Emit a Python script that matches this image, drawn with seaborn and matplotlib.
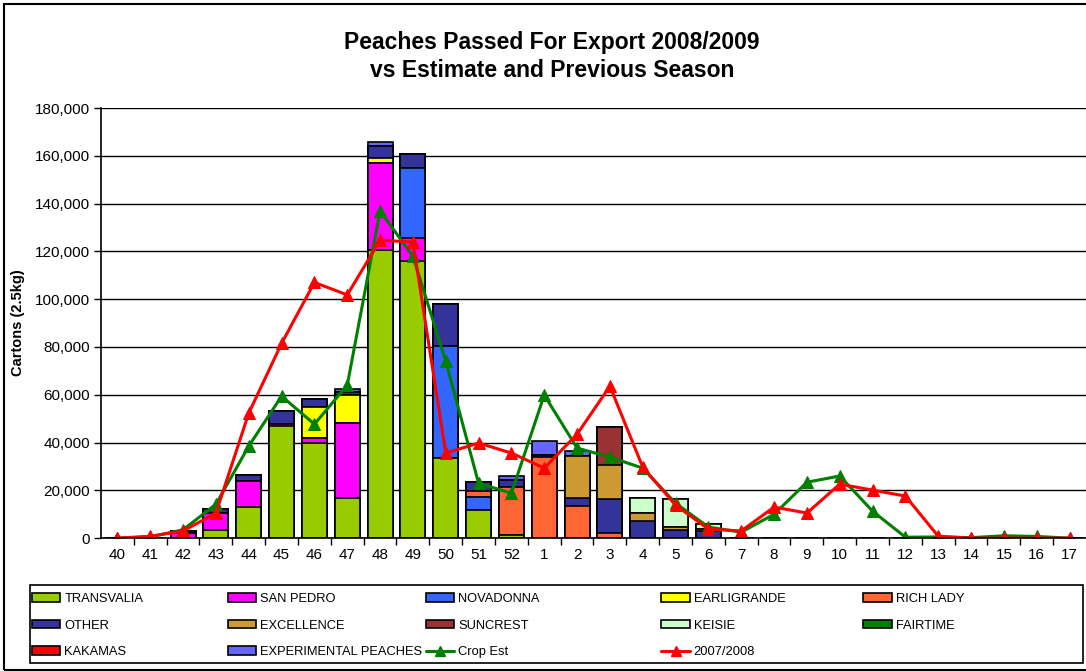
import numpy as np
import pandas as pd
import matplotlib
matplotlib.use("Agg")
import matplotlib.pyplot as plt
from matplotlib.patches import Patch, Rectangle
from matplotlib.lines import Line2D
from matplotlib.ticker import FuncFormatter, FixedLocator
import seaborn as sns

# weeks 40..52 then 1..17
weeks = [str(w) for w in list(range(40, 53)) + list(range(1, 18))]

#               40 41   42    43     44     45     46     47      48      49     50     51    52     1      2      3      4      5     6   7 .. 17
transvalia   = [0, 0,    0, 3500, 13000, 46900, 39800, 16700, 120500, 116000, 33500, 11700, 1500,     0,     0,     0,    0,     0,    0] + [0] * 11
san_pedro    = [0, 0, 2000, 7000, 11000,  1000,  2000, 31400,  36400,   9600,     0,     0,    0,     0,     0,     0,    0,     0,    0] + [0] * 11
novadonna    = [0, 0,    0,    0,     0,     0,     0,     0,      0,  29300, 46900,  5400,    0,     0,     0,     0,    0,     0,    0] + [0] * 11
earligrande  = [0, 0,    0,    0,     0,     0, 13000, 11700,   2000,      0,     0,     0,    0,     0,     0,     0,    0,     0,    0] + [0] * 11
rich_lady    = [0, 0,    0,    0,     0,     0,     0,     0,      0,      0,     0,  2500, 20000, 33900, 13400,  2100,    0,     0,    0] + [0] * 11
other        = [0, 0, 1000, 1500,  2500,  5500,  3300,  1300,   5400,   5800, 17600,  3800, 2800,  1000,  3500, 14200, 7100,  3300, 2800] + [0] * 11
excellence   = [0, 0,    0,    0,     0,     0,     0,     0,      0,      0,     0,     0,    0,     0, 17600, 14200, 3300,  1300, 1000] + [0] * 11
suncrest     = [0, 0,    0,    0,     0,     0,     0,     0,      0,      0,     0,     0,    0,     0,     0, 15900,    0,     0,    0] + [0] * 11
keisie       = [0, 0,    0,    0,     0,     0,     0,     0,      0,      0,     0,     0,    0,     0,     0,     0, 6300, 11700, 2000] + [0] * 11
fairtime     = [0] * 30
kakamas      = [0] * 30
experimental = [0, 0,    0,    0,     0,     0,     0,  1500,   1300,      0,     0,     0, 1800,  5900,  2000,     0,    0,     0,    0] + [0] * 11

crop_est = [0, 500, 3500, 14200, 38500, 59400, 47700, 64000, 136900, 118000, 74100, 23000, 18800,
            59900, 37700, 33900, 29300, 14600, 4600, 2500, 10000, 23400, 26000, 11300, 400, 500, 200, 1000, 700, 0]
prev_season = [0, 800, 3000, 10500, 52300, 81500, 107000, 101800, 124700, 123900, 35600, 39800, 35600,
               29300, 43500, 63600, 29700, 13800, 3800, 3000, 13000, 10500, 22600, 20100, 17600, 800, 0, 0, 0, 0]

varieties = ["TRANSVALIA", "SAN PEDRO", "NOVADONNA", "EARLIGRANDE", "RICH LADY", "OTHER",
             "EXCELLENCE", "SUNCREST", "KEISIE", "FAIRTIME", "KAKAMAS", "EXPERIMENTAL PEACHES"]
colors = ["#99CC00", "#FF00FF", "#3366FF", "#FFFF00", "#FF6633", "#333399",
          "#CC9933", "#993333", "#CCFFCC", "#008000", "#FF0000", "#6666FF"]

df = pd.DataFrame(dict(zip(varieties, [transvalia, san_pedro, novadonna, earligrande, rich_lady, other,
                                       excellence, suncrest, keisie, fairtime, kakamas, experimental])),
                  index=weeks)
cum = df.cumsum(axis=1)

sns.set_theme(style="white", rc={"text.color": "black", "axes.labelcolor": "black",
                                 "xtick.color": "black", "ytick.color": "black"})
plt.rcParams["font.family"] = ["Liberation Sans", "DejaVu Sans"]

fig = plt.figure(figsize=(10.86, 6.71), dpi=100)
ax = fig.add_axes([0.093, 0.198, 0.907, 0.641])

# stacked bars: draw cumulative totals from the top layer down
for name, col in reversed(list(zip(varieties, colors))):
    sns.barplot(x=weeks, y=cum[name].values, order=weeks, color=col, saturation=1,
                edgecolor="black", linewidth=1.2, width=0.76, errorbar=None, ax=ax)

pos = np.arange(len(weeks))
sns.lineplot(x=pos, y=crop_est, color="#008000", marker="^", markersize=8, markeredgecolor="#008000",
             linewidth=2.2, legend=False, ax=ax)
sns.lineplot(x=pos, y=prev_season, color="#FF0000", marker="^", markersize=8, markeredgecolor="#FF0000",
             linewidth=2.2, legend=False, ax=ax)

ax.set_xlim(-0.5, len(weeks) - 0.5)
ax.set_ylim(0, 180000)
ax.set_yticks(np.arange(0, 180001, 20000))
ax.yaxis.set_major_formatter(FuncFormatter(lambda v, p: f"{int(v):,}"))
ax.set_xticks(pos)
ax.set_xticklabels(weeks)
ax.xaxis.set_minor_locator(FixedLocator(pos[:-1] + 0.5))
ax.tick_params(axis="x", which="major", length=0, labelsize=11, pad=7)
ax.tick_params(axis="x", which="minor", length=5, width=1, direction="out", color="black", bottom=True)
ax.tick_params(axis="y", length=5, width=1, direction="out", labelsize=11, left=True, pad=3)
ax.set_xlabel("")
ax.set_ylabel("")
ax.yaxis.grid(True, color="black", linewidth=1)
ax.set_axisbelow(True)
for s in ["top", "right"]:
    ax.spines[s].set_visible(False)
for s in ["left", "bottom"]:
    ax.spines[s].set_color("black")
    ax.spines[s].set_linewidth(1.2)

fig.text(0.508, 0.916, "Peaches Passed For Export 2008/2009\nvs Estimate and Previous Season",
         ha="center", va="center", fontsize=16.5, fontweight="bold", linespacing=1.3)
fig.text(0.017, 0.519, "Cartons (2.5kg)", rotation=90, ha="center", va="center",
         fontsize=10.5, fontweight="bold")

# legend: framed box, five columns placed like the original
patches = [Patch(facecolor=c, edgecolor="black", linewidth=1.2, label=n) for n, c in zip(varieties, colors)]
crop_h = Line2D([], [], color="#008000", marker="^", markersize=7, linewidth=2.2, label="Crop Est")
prev_h = Line2D([], [], color="#FF0000", marker="^", markersize=7, linewidth=2.2, label="2007/2008")
rows = [patches[0:5], patches[5:10], patches[10:12] + [crop_h, prev_h]]
col_x = [0.0295, 0.210, 0.392, 0.609, 0.795]
for c, x in enumerate(col_x):
    hs = [rows[r][c] for r in range(3) if c < len(rows[r])]
    leg = fig.legend(handles=hs, labels=[h.get_label() for h in hs], loc="upper left",
                     bbox_to_anchor=(x, 0.116), frameon=False, fontsize=9.3,
                     handlelength=2.2, handleheight=0.66, handletextpad=0.3, labelspacing=1.12,
                     borderaxespad=0, borderpad=0)
fig.patches.append(Rectangle((30 / 1086, 1 - 663 / 671), 1053 / 1086, 78 / 671, transform=fig.transFigure,
                             fill=False, edgecolor="black", linewidth=1.2))

fig.patches.append(Rectangle((0.0035, 0.002), 1.0, 0.992, transform=fig.transFigure,
                             fill=False, edgecolor="black", linewidth=1.5))

fig.savefig("out.png", dpi=100)
